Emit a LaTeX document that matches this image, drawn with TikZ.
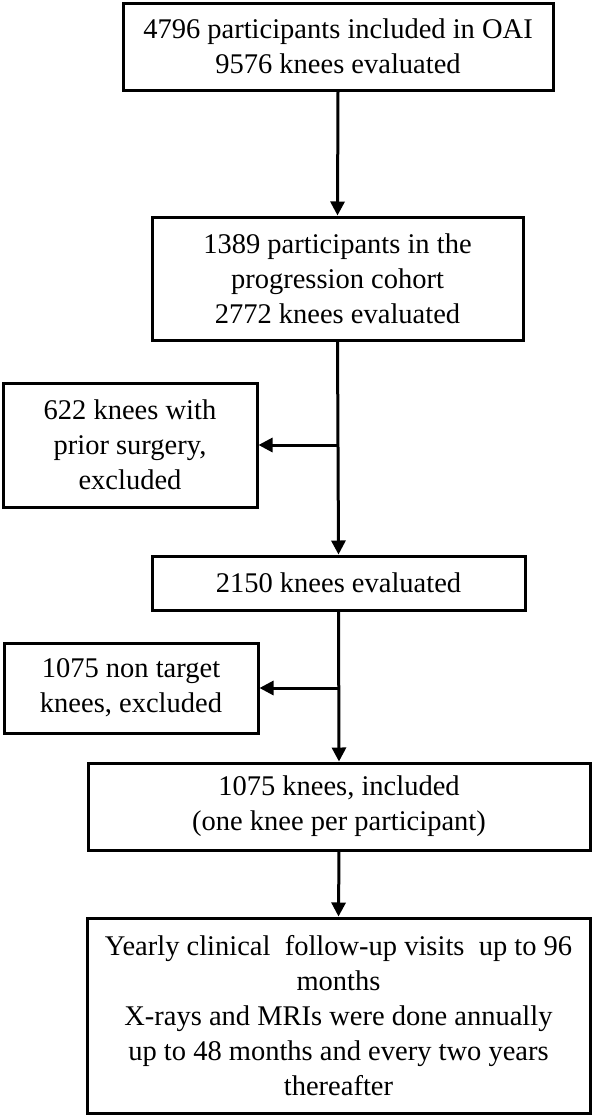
\documentclass[tikz,border=0pt]{standalone}
\usepackage{fontspec}
\setmainfont{Liberation Serif}
\usetikzlibrary{arrows.meta}

\tikzset{
  box/.style={draw, line width=3pt, align=center, inner sep=0pt,
    font=\fontsize{28.5}{35}\selectfont},
  flow/.style={line width=3pt, -{Triangle[length=14pt,width=14pt]}}
}

\begin{document}
\begin{tikzpicture}[x=1pt,y=-1pt]
  \useasboundingbox (0,0) rectangle (596,1117);

  % main column
  \node[box, minimum width=430pt, minimum height=87pt] (oai) at (338,46.5)
    {4796 participants included in OAI\\9576 knees evaluated};
  \node[box, minimum width=371pt, minimum height=123pt] (cohort) at (337.5,278.5)
    {1389 participants in the\\progression cohort\\2772 knees evaluated};
  \node[box, minimum width=373pt, minimum height=54pt] (kept) at (338.5,583)
    {2150 knees evaluated};
  \node[box, minimum width=502pt, minimum height=87pt] (included) at (339,806.5)
    {1075 knees, included\\(one knee per participant)};
  \node[box, minimum width=503pt, minimum height=195pt] (followup) at (338.5,1015.5)
    {Yearly clinical\ \ follow-up visits\ \ up to 96\\months\\X-rays and MRIs were done annually\\up to 48 months and every two years\\thereafter};

  % exclusions
  \node[box, minimum width=254pt, minimum height=124pt] (surgery) at (130,445)
    {622 knees with\\prior surgery,\\excluded};
  \node[box, minimum width=254pt, minimum height=90pt] (nontarget) at (131,688)
    {1075 non target\\knees, excluded};

  \draw[flow] (oai.south) -- (cohort.north);
  \draw[flow] (cohort.south) -- (kept.north);
  \draw[flow] (cohort.south |- surgery.east) -- (surgery.east);
  \draw[flow] (kept.south) -- (included.north);
  \draw[flow] (kept.south |- nontarget.east) -- (nontarget.east);
  \draw[flow] (included.south) -- (followup.north);
\end{tikzpicture}
\end{document}
